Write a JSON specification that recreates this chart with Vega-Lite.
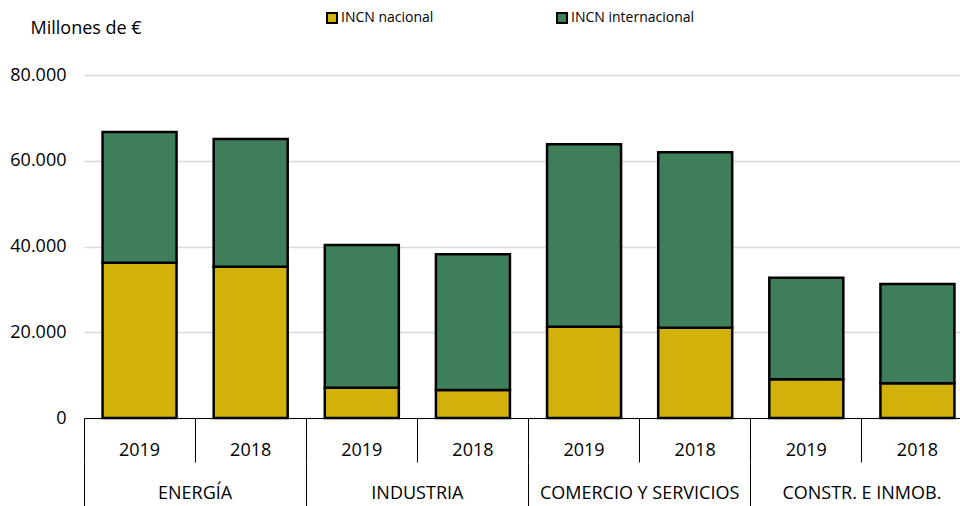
{
  "$schema": "https://vega.github.io/schema/vega-lite/v6.json",
  "width": 876,
  "height": 343,
  "autosize": {"type": "none"},
  "padding": {"left": 84, "top": 75, "right": 0, "bottom": 88},
  "config": {"font": "Open Sans", "view": {"stroke": null}},
  "data": {
    "values": [
      {"grupo": "ENERGÍA", "anio": "2019", "key": "ENERGÍA 2019", "serie": "INCN nacional", "value": 36200},
      {"grupo": "ENERGÍA", "anio": "2019", "key": "ENERGÍA 2019", "serie": "INCN internacional", "value": 30500},
      {"grupo": "ENERGÍA", "anio": "2018", "key": "ENERGÍA 2018", "serie": "INCN nacional", "value": 35250},
      {"grupo": "ENERGÍA", "anio": "2018", "key": "ENERGÍA 2018", "serie": "INCN internacional", "value": 29820},
      {"grupo": "INDUSTRIA", "anio": "2019", "key": "INDUSTRIA 2019", "serie": "INCN nacional", "value": 7050},
      {"grupo": "INDUSTRIA", "anio": "2019", "key": "INDUSTRIA 2019", "serie": "INCN internacional", "value": 33300},
      {"grupo": "INDUSTRIA", "anio": "2018", "key": "INDUSTRIA 2018", "serie": "INCN nacional", "value": 6530},
      {"grupo": "INDUSTRIA", "anio": "2018", "key": "INDUSTRIA 2018", "serie": "INCN internacional", "value": 31650},
      {"grupo": "COMERCIO Y SERVICIOS", "anio": "2019", "key": "COMERCIO Y SERVICIOS 2019", "serie": "INCN nacional", "value": 21300},
      {"grupo": "COMERCIO Y SERVICIOS", "anio": "2019", "key": "COMERCIO Y SERVICIOS 2019", "serie": "INCN internacional", "value": 42530},
      {"grupo": "COMERCIO Y SERVICIOS", "anio": "2018", "key": "COMERCIO Y SERVICIOS 2018", "serie": "INCN nacional", "value": 21070},
      {"grupo": "COMERCIO Y SERVICIOS", "anio": "2018", "key": "COMERCIO Y SERVICIOS 2018", "serie": "INCN internacional", "value": 40900},
      {"grupo": "CONSTR. E INMOB.", "anio": "2019", "key": "CONSTR. E INMOB. 2019", "serie": "INCN nacional", "value": 9020},
      {"grupo": "CONSTR. E INMOB.", "anio": "2019", "key": "CONSTR. E INMOB. 2019", "serie": "INCN internacional", "value": 23710},
      {"grupo": "CONSTR. E INMOB.", "anio": "2018", "key": "CONSTR. E INMOB. 2018", "serie": "INCN nacional", "value": 8090},
      {"grupo": "CONSTR. E INMOB.", "anio": "2018", "key": "CONSTR. E INMOB. 2018", "serie": "INCN internacional", "value": 23160}
    ]
  },
  "layer": [
    {
      "mark": {"type": "bar", "width": {"band": 0.666}, "stroke": "black", "strokeWidth": 2.5},
      "encoding": {
        "x": {
          "field": "key",
          "type": "nominal",
          "sort": ["ENERGÍA 2019", "ENERGÍA 2018", "INDUSTRIA 2019", "INDUSTRIA 2018", "COMERCIO Y SERVICIOS 2019", "COMERCIO Y SERVICIOS 2018", "CONSTR. E INMOB. 2019", "CONSTR. E INMOB. 2018"],
          "scale": {"range": [0, 889], "paddingInner": 0, "paddingOuter": 0},
          "axis": {
            "title": null,
            "orient": "bottom",
            "bandPosition": 0,
            "tickSize": 44,
            "tickColor": "black",
            "tickWidth": 1,
            "domainColor": "black",
            "domainWidth": 1,
            "labelAngle": 0,
            "labelBaseline": "middle",
            "labelPadding": -12,
            "labelFontSize": 18,
            "labelColor": "black",
            "labelExpr": "slice(datum.label, -4)",
            "grid": false
          }
        },
        "y": {
          "field": "value",
          "type": "quantitative",
          "stack": "zero",
          "scale": {"domain": [0, 80000], "nice": false},
          "axis": {
            "values": [0, 20000, 40000, 60000, 80000],
            "format": ",.0f",
            "labelExpr": "replace(datum.label, ',', '.')",
            "labelFontSize": 18,
            "labelColor": "black",
            "labelPadding": 18,
            "ticks": false,
            "domain": false,
            "grid": true,
            "gridColor": "#d9d9d9",
            "gridWidth": 1.5,
            "title": "Millones de €",
            "titleAngle": 0,
            "titleAlign": "left",
            "titleBaseline": "middle",
            "titleX": -54,
            "titleY": -47,
            "titleFontSize": 18,
            "titleFontWeight": "normal",
            "titleColor": "black"
          }
        },
        "color": {
          "field": "serie",
          "type": "nominal",
          "sort": ["INCN nacional", "INCN internacional"],
          "scale": {"domain": ["INCN nacional", "INCN internacional"], "range": ["#d2b20a", "#3e7e5a"]},
          "legend": {
            "title": null,
            "orient": "none",
            "direction": "horizontal",
            "legendX": 241,
            "legendY": -64,
            "symbolType": "square",
            "symbolSize": 100,
            "symbolStrokeColor": "black",
            "symbolStrokeWidth": 2,
            "symbolOpacity": 1,
            "labelFontSize": 14,
            "labelColor": "black",
            "labelOffset": 2,
            "columnPadding": 119
          }
        },
        "order": {"field": "serie", "sort": "descending"}
      }
    },
    {
      "mark": {"type": "rect", "opacity": 0},
      "encoding": {
        "x": {
          "field": "grupo",
          "type": "nominal",
          "sort": ["ENERGÍA", "INDUSTRIA", "COMERCIO Y SERVICIOS", "CONSTR. E INMOB."],
          "scale": {"range": [0, 889], "paddingInner": 0, "paddingOuter": 0},
          "axis": {
            "title": null,
            "orient": "bottom",
            "offset": 44,
            "domain": false,
            "bandPosition": 0,
            "tickSize": 44,
            "tickColor": "black",
            "tickWidth": 1,
            "labelAngle": 0,
            "labelBaseline": "middle",
            "labelPadding": -13,
            "labelFontSize": 18,
            "labelLimit": 0,
            "labelColor": "black",
            "grid": false
          }
        }
      }
    }
  ],
  "resolve": {"scale": {"x": "independent"}, "axis": {"x": "independent"}}
}
